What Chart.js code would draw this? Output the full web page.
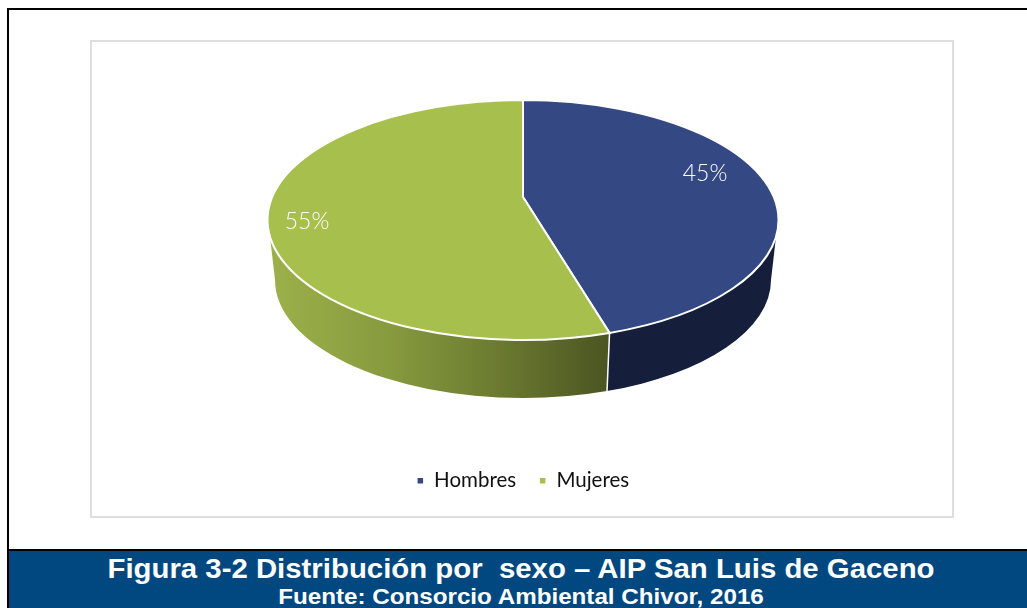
<!DOCTYPE html>
<html>
<head>
<meta charset="utf-8">
<script src="https://cdn.jsdelivr.net/npm/chart.js@4"></script>
<style>
html,body{margin:0;padding:0;background:#fff;width:1027px;height:608px;overflow:hidden}
#page{position:relative;width:1027px;height:608px;overflow:hidden}
.abs{position:absolute;box-sizing:border-box}
#outer{left:7px;top:8px;width:1030px;height:543px;border:2px solid #000}
#frame{left:90px;top:40px;width:864px;height:478px;border:2px solid #dedede}
#band{left:7px;top:551px;width:1020px;height:57px;background:#00487f;border-left:2px solid #000;overflow:hidden}
.cap{position:absolute;left:-9px;width:1042px;text-align:center;color:#fff;font-family:"Liberation Sans",Arial,sans-serif;font-weight:bold;white-space:pre}
#cap1{top:1px;font-size:28.5px;line-height:32px;transform:scaleX(1.03)}
#cap2{top:34px;font-size:21.5px;line-height:24px;transform:scaleX(1.125)}
canvas{position:absolute;left:92px;top:42px}
</style>
</head>
<body>
<div id="page">
<div class="abs" id="outer"></div>
<div class="abs" id="frame"></div>
<div class="abs" id="band">
<div class="cap" id="cap1">Figura 3-2 Distribución por  sexo – AIP San Luis de Gaceno</div>
<div class="cap" id="cap2">Fuente: Consorcio Ambiental Chivor, 2016</div>
</div>
<canvas id="c" width="860" height="474"></canvas>
</div>
<script>
const categories = ['Hombres', 'Mujeres'];
const values = [45, 55];
const sliceColors = ['#344883', '#a7bf4c'];
const wallColors = ['#151e3b', null];
const labelFont = '300 23px Lato, sans-serif';

// perspective geometry of the disc, relative to the chart centre
const top3d = {cy: 178, rx: 255.5, ry: 120, apex: -23, tilt: 1.96};
const bottom3d = {cy: 238, rx: 248, ry: 118};
const silhouette = 8 * Math.PI / 180;
const labelOffsets = [[182, -46], [-216, 2]];

function rayToEllipse(a) {
  const dx = top3d.tilt * Math.cos(a), dy = Math.sin(a), c = top3d.apex;
  const A = dx*dx/(top3d.rx*top3d.rx) + dy*dy/(top3d.ry*top3d.ry);
  const B = 2*c*dy/(top3d.ry*top3d.ry);
  const C = c*c/(top3d.ry*top3d.ry) - 1;
  const s = (-B + Math.sqrt(B*B - 4*A*C)) / (2*A);
  return Math.atan2((c + s*dy)/top3d.ry, s*dx/top3d.rx);
}

const pie3d = {
  id: 'pie3d',
  beforeDatasetDraw(chart) {
    const ctx = chart.ctx, arcs = chart.getDatasetMeta(0).data, cx = arcs[0].x;
    const spans = arcs.map(el => {
      let t0 = rayToEllipse(el.startAngle), t1 = rayToEllipse(el.endAngle);
      while (t1 <= t0) t1 += 2*Math.PI;
      return [t0, t1];
    });
    const green = ctx.createLinearGradient(cx-255, 0, cx+85, 0);
    green.addColorStop(0, '#9cb14a');
    green.addColorStop(0.35, '#879b3f');
    green.addColorStop(0.7, '#69782f');
    green.addColorStop(1, '#4b5522');
    ctx.save();
    spans.forEach(([t0, t1], i) => {
      const a = Math.max(t0, silhouette), b = Math.min(t1, Math.PI - silhouette);
      if (a >= b) return;
      const ba = t0 <= silhouette ? 0 : a, bb = t1 >= Math.PI - silhouette ? Math.PI : b;
      ctx.beginPath();
      ctx.ellipse(cx, top3d.cy, top3d.rx, top3d.ry, 0, a, b);
      ctx.ellipse(cx, bottom3d.cy, bottom3d.rx, bottom3d.ry, 0, bb, ba, true);
      ctx.closePath();
      ctx.fillStyle = wallColors[i] || green;
      ctx.fill();
    });
    spans.forEach(([t0, t1]) => {
      if (t0 > silhouette && t0 < Math.PI - silhouette) {
        ctx.beginPath();
        ctx.moveTo(cx + top3d.rx*Math.cos(t0), top3d.cy + top3d.ry*Math.sin(t0));
        ctx.lineTo(cx + bottom3d.rx*Math.cos(t0), bottom3d.cy + bottom3d.ry*Math.sin(t0));
        ctx.strokeStyle = '#fff';
        ctx.lineWidth = 1.5;
        ctx.stroke();
      }
    });
    spans.forEach(([t0, t1], i) => {
      ctx.beginPath();
      ctx.moveTo(cx, top3d.cy + top3d.apex);
      ctx.ellipse(cx, top3d.cy, top3d.rx, top3d.ry, 0, t0, t1);
      ctx.closePath();
      ctx.fillStyle = arcs[i].options.backgroundColor;
      ctx.fill();
      ctx.strokeStyle = '#fff';
      ctx.lineWidth = 2;
      ctx.stroke();
    });
    ctx.restore();
    return false;
  },
  afterDatasetsDraw(chart) {
    const ctx = chart.ctx, arcs = chart.getDatasetMeta(0).data, cx = arcs[0].x;
    ctx.save();
    ctx.font = labelFont;
    ctx.fillStyle = '#fff';
    ctx.textAlign = 'center';
    ctx.textBaseline = 'middle';
    values.forEach((v, i) => {
      ctx.fillText(v + '%', cx + labelOffsets[i][0], top3d.cy + labelOffsets[i][1]);
    });
    ctx.restore();
  }
};

new Chart(document.getElementById('c'), {
  type: 'pie',
  data: {
    labels: categories,
    datasets: [{data: values, backgroundColor: sliceColors, borderColor: '#fff', borderWidth: 1.5}]
  },
  options: {
    responsive: false,
    animation: false,
    layout: {padding: {left: 2, bottom: 15}},
    plugins: {
      tooltip: {enabled: false},
      legend: {
        display: true,
        position: 'bottom',
        labels: {
          color: '#111',
          font: {family: 'Lato, sans-serif', size: 20.5},
          boxWidth: 7,
          boxHeight: 7,
          padding: 23
        }
      }
    }
  },
  plugins: [pie3d]
});
</script>
</body>
</html>
